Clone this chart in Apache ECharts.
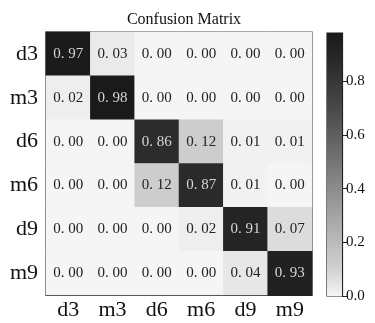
<!DOCTYPE html>
<html>
<head>
<meta charset="utf-8">
<script src="https://cdn.jsdelivr.net/npm/echarts@6/dist/echarts.min.js"></script>
<style>
    html, body { margin: 0; padding: 0; background: #fff; }
    #main { width: 375px; height: 323px; }
</style>
</head>
<body>
<div id="main"></div>
<script>
    // 类别
    var classes = ['d3', 'm3', 'd6', 'm6', 'd9', 'm9'];
    // 每行：真实类别，每列：预测类别
    var rowD3 = [0.97, 0.03, 0.00, 0.00, 0.00, 0.00];
    var rowM3 = [0.02, 0.98, 0.00, 0.00, 0.00, 0.00];
    var rowD6 = [0.00, 0.00, 0.86, 0.12, 0.01, 0.01];
    var rowM6 = [0.00, 0.00, 0.12, 0.87, 0.01, 0.00];
    var rowD9 = [0.00, 0.00, 0.00, 0.02, 0.91, 0.07];
    var rowM9 = [0.00, 0.00, 0.00, 0.00, 0.04, 0.93];
    // 色条刻度
    var barTicks = [0, 0.2, 0.4, 0.6, 0.8];
    var barMax = 0.98;

    var rows = [rowD3, rowM3, rowD6, rowM6, rowD9, rowM9];
    var greys = ['#f5f5f5', '#d2d2d2', '#bcbcbc', '#a5a5a5', '#8e8e8e', '#777777',
        '#616161', '#4b4b4b', '#3a3a3a', '#282828', '#1a1a1a'];
    var serif = '"Liberation Serif", "DejaVu Serif", serif';

    var myChart = echarts.init(document.getElementById('main'));

    var data = [];
    rows.forEach(function (row, r) {
        row.forEach(function (v, c) {
            data.push({
                value: [c, r, v],
                label: { color: v > 0.5 ? '#d6d6d6' : '#222' }
            });
        });
    });

    // 色条渐变（从上到下）
    var stops = greys.slice().reverse().map(function (col, i) {
        return { offset: i / (greys.length - 1), color: col };
    });

    myChart.setOption({
        backgroundColor: '#fff',
        animation: false,
        title: {
            text: 'Confusion Matrix',
            left: 179,
            textAlign: 'center',
            top: 7,
            textStyle: { fontFamily: serif, fontSize: 16, fontWeight: 'normal', color: '#111' }
        },
        grid: [{
            left: 46, top: 32, width: 266, height: 263,
            show: true, borderColor: '#222', borderWidth: 1.2, backgroundColor: 'transparent'
        }, {
            left: 327, top: 33, width: 15, height: 263,
            show: true, borderColor: '#222', borderWidth: 1.2, backgroundColor: 'transparent'
        }],
        xAxis: [{
            type: 'category', gridIndex: 0, data: classes,
            axisLine: { lineStyle: { color: '#222', width: 1.2 } },
            axisTick: { alignWithLabel: true, length: 6, lineStyle: { color: '#222' } },
            axisLabel: { fontFamily: serif, fontSize: 22, color: '#111', margin: 4 },
            splitLine: { show: false }
        }, {
            type: 'category', gridIndex: 1, data: ['bar'], show: false
        }],
        yAxis: [{
            type: 'category', gridIndex: 0, data: classes, inverse: true,
            axisLine: { lineStyle: { color: '#222', width: 1.2 } },
            axisTick: { alignWithLabel: true, length: 6, lineStyle: { color: '#222' } },
            axisLabel: { fontFamily: serif, fontSize: 22, color: '#111', margin: 8 },
            splitLine: { show: false }
        }, {
            type: 'value', gridIndex: 1, position: 'right', min: 0, max: barMax,
            axisLine: { show: true, lineStyle: { color: '#222', width: 1.2 } },
            axisTick: { show: true, length: 5, customValues: barTicks, lineStyle: { color: '#222' } },
            axisLabel: {
                fontFamily: serif, fontSize: 15, color: '#111', margin: 4,
                customValues: barTicks,
                formatter: function (v) { return v.toFixed(1); }
            },
            splitLine: { show: false }
        }],
        visualMap: {
            show: false, min: 0, max: barMax, seriesIndex: 0,
            inRange: { color: greys }
        },
        series: [{
            type: 'heatmap',
            xAxisIndex: 0, yAxisIndex: 0,
            data: data,
            label: {
                show: true,
                fontFamily: serif,
                fontSize: 15,
                formatter: function (p) {
                    return p.value[2].toFixed(2).replace('.', '. ');
                }
            },
            itemStyle: { borderWidth: 0 },
            emphasis: { disabled: true }
        }, {
            type: 'bar',
            xAxisIndex: 1, yAxisIndex: 1,
            data: [barMax],
            barWidth: '100%',
            itemStyle: { color: new echarts.graphic.LinearGradient(0, 0, 0, 1, stops) },
            silent: true
        }]
    });
</script>
</body>
</html>
